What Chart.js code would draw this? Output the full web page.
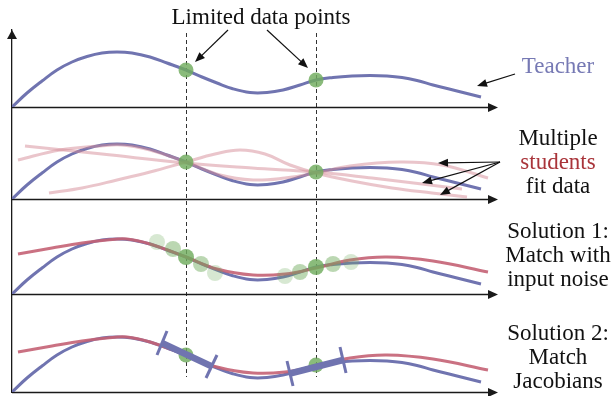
<!DOCTYPE html>
<html>
<head>
<meta charset="utf-8">
<title>Teacher / students</title>
<script src="https://cdn.jsdelivr.net/npm/chart.js@4.4.1/dist/chart.umd.min.js"></script>
<style>
    html, body { margin: 0; padding: 0; background: #fff; }
    #wrap { position: relative; width: 615px; height: 396px; overflow: hidden; }
    #wrap canvas { position: absolute; left: 0; top: 0; }
    .lbl {
        position: absolute;
        width: 140px;
        font-family: "Liberation Serif", serif;
        font-size: 23px;
        line-height: 24px;
        color: #111;
        text-align: center;
        white-space: nowrap;
    }
    .red { color: #a9343a; }
</style>
</head>
<body>
<div id="wrap">
    <canvas id="diagram" width="615" height="396"></canvas>
    <div class="lbl" style="left:161px; top:5px; width:200px;">Limited data points</div>
    <div class="lbl" style="left:488px; top:54px; color:#7679b4;">Teacher</div>
    <div class="lbl" style="left:488px; top:126px;">Multiple<br><span class="red">students</span><br>fit data</div>
    <div class="lbl" style="left:488px; top:219px;">Solution 1:<br>Match with<br>input noise</div>
    <div class="lbl" style="left:488px; top:321px;">Solution 2:<br>Match<br>Jacobians</div>
</div>

<script>
// x: position along the horizontal axis, y: height above that panel's axis

// teacher function (same in every panel)
const teacherX = [0, 15, 30, 45, 60, 75, 90, 105, 120, 138, 155, 174, 190, 205, 220, 238, 255, 271, 288, 304, 321, 340, 358, 375, 390, 405, 421, 445, 469];
const teacherY = [0, 14, 26, 37, 45, 50.5, 54, 55, 54, 50, 44, 37, 30, 24, 18.5, 14.5, 14.5, 17, 22, 27, 29.5, 31, 31.5, 31, 29.5, 26.5, 22, 16, 10];

// the two limited data points
const dataX = [174, 304];
const dataY = [37, 27];

// panel 2: three students that all pass through the data points
const studentAX = [6, 48, 88, 110, 138, 174, 208, 241, 273, 304, 338, 388, 430, 476];
const studentAY = [39, 49, 53, 54, 49, 37, 24, 19, 21, 26, 33, 37, 34, 21];
const studentBX = [13, 90, 174, 240, 304, 360, 410, 450];
const studentBY = [53, 45, 36, 31, 27, 21, 15, 10];
const studentCX = [37, 70, 105, 138, 174, 203, 228, 253, 278, 304, 340, 380, 420, 455];
const studentCY = [6, 11, 19, 27, 37, 45, 49, 45, 34, 26, 18, 11, 6, 2];

// panels 3 and 4: the fitted student
const solutionX = [6, 40, 70, 95, 115, 138, 174, 205, 241, 273, 304, 338, 375, 421, 476];
const solutionY = [40, 46, 51, 54, 55, 50, 37, 25, 19, 20, 26, 34, 37, 33, 22];

// panel 3: noisy copies of the inputs around each data point
const noiseX = [145, 161, 189, 203, 273, 288, 321, 339];
const noiseY = [52, 45, 30, 21, 18, 22, 30, 32];

// panel 4: tangent (Jacobian) pieces and their end bars
const jacobianX = [[150, 200], [278, 331]];
const jacobianY = [[49, 25.5], [18.5, 32]];
const jacBarX = [[155, 145], [205, 194], [275, 281], [328, 334]];
const jacBarY = [[61, 37], [37, 14], [31, 6], [45, 19]];

// ---- styling ----
const BLUE = '#7074b0';
const RED = 'rgba(196, 98, 116, 0.9)';
const PINK = 'rgba(214, 140, 152, 0.5)';
const GREEN = 'rgba(112, 172, 94, 0.82)';
const noiseAlpha = [0.28, 0.48, 0.48, 0.28, 0.28, 0.48, 0.48, 0.28];

const panelIds = ['p1', 'p2', 'p3', 'p4'];
const panelSpan = [77, 92, 95, 98];   // vertical room of each panel, same units as the data

const pts = (xs, ys) => xs.map((x, i) => ({ x, y: ys[i] }));

const datasets = [];

function addLine(axis, xs, ys, color, width, extra) {
    datasets.push(Object.assign({
        type: 'line',
        yAxisID: axis,
        data: pts(xs, ys),
        borderColor: color,
        borderWidth: width,
        pointRadius: 0,
        tension: 0.4,
        fill: false
    }, extra || {}));
}

function addDots(axis, xs, ys, color, radius) {
    datasets.push({
        type: 'scatter',
        yAxisID: axis,
        data: pts(xs, ys),
        showLine: false,
        pointRadius: radius,
        pointBorderWidth: 0,
        pointBackgroundColor: color
    });
}

// panel 1
addLine('p1', teacherX, teacherY, BLUE, 3);
addDots('p1', dataX, dataY, GREEN, 7.5);

// panel 2
addLine('p2', teacherX, teacherY, BLUE, 3);
addLine('p2', studentAX, studentAY, PINK, 3);
addLine('p2', studentBX, studentBY, PINK, 3);
addLine('p2', studentCX, studentCY, PINK, 3);
addDots('p2', dataX, dataY, GREEN, 7.5);

// panel 3
addLine('p3', teacherX, teacherY, BLUE, 3);
addLine('p3', solutionX, solutionY, RED, 3);
addDots('p3', noiseX, noiseY, ctx => `rgba(112, 172, 94, ${noiseAlpha[ctx.dataIndex]})`, 8);
addDots('p3', dataX, dataY, GREEN, 8);

// panel 4
addLine('p4', teacherX, teacherY, BLUE, 3);
addLine('p4', solutionX, solutionY, RED, 3);
addDots('p4', dataX, dataY, GREEN, 7.5);
jacobianX.forEach((xs, i) => addLine('p4', xs, jacobianY[i], BLUE, 6.5, { tension: 0 }));
jacBarX.forEach((xs, i) => addLine('p4', xs, jacBarY[i], BLUE, 3, { tension: 0 }));

// later datasets paint on top
datasets.forEach((d, i) => { d.order = -i; });

// annotation pointers, in panel units
const pointers = [
    { axis: 'p1', from: [216, 77], to: [183, 45] },
    { axis: 'p1', from: [255, 77], to: [296, 39] },
    { axis: 'p1', from: [503, 33], to: [465, 21] },
    { axis: 'p2', from: [488, 37], to: [426, 36] },
    { axis: 'p2', from: [488, 37], to: [410, 16] },
    { axis: 'p2', from: [488, 37], to: [428, 4] }
];

function arrowHead(ctx, x1, y1, x2, y2, len, half) {
    const a = Math.atan2(y2 - y1, x2 - x1);
    ctx.beginPath();
    ctx.moveTo(x2, y2);
    ctx.lineTo(x2 - len * Math.cos(a) + half * Math.sin(a), y2 - len * Math.sin(a) - half * Math.cos(a));
    ctx.lineTo(x2 - len * Math.cos(a) - half * Math.sin(a), y2 - len * Math.sin(a) + half * Math.cos(a));
    ctx.closePath();
    ctx.fill();
}

const frame = {
    id: 'frame',
    beforeDatasetsDraw(chart) {
        const { ctx, chartArea, scales } = chart;
        const x = scales.x;
        ctx.save();

        // dashed guides through the data points, across all panels
        ctx.strokeStyle = '#333';
        ctx.lineWidth = 1;
        ctx.setLineDash([4, 3]);
        const top = scales.p1.getPixelForValue(74);
        const bottom = scales.p4.getPixelForValue(15);
        dataX.forEach(v => {
            const px = Math.round(x.getPixelForValue(v)) + 0.5;
            ctx.beginPath();
            ctx.moveTo(px, top);
            ctx.lineTo(px, bottom);
            ctx.stroke();
        });
        ctx.setLineDash([]);

        // horizontal axes with arrows
        ctx.strokeStyle = '#1a1a1a';
        ctx.fillStyle = '#1a1a1a';
        ctx.lineWidth = 1.3;
        panelIds.forEach(id => {
            const py = Math.round(scales[id].getPixelForValue(0)) + 0.5;
            ctx.beginPath();
            ctx.moveTo(chartArea.left, py);
            ctx.lineTo(chartArea.right - 6, py);
            ctx.stroke();
            arrowHead(ctx, chartArea.left, py, chartArea.right, py, 10, 4.5);
        });

        // arrow on the top vertical axis
        arrowHead(ctx, chartArea.left, chartArea.top + 20, chartArea.left, chartArea.top, 9, 5);
        ctx.restore();
    },
    afterDatasetsDraw(chart) {
        const { ctx, scales } = chart;
        ctx.save();
        ctx.strokeStyle = '#111';
        ctx.fillStyle = '#111';
        ctx.lineWidth = 1.2;
        pointers.forEach(p => {
            const y = scales[p.axis];
            const x1 = scales.x.getPixelForValue(p.from[0]);
            const y1 = y.getPixelForValue(p.from[1]);
            const x2 = scales.x.getPixelForValue(p.to[0]);
            const y2 = y.getPixelForValue(p.to[1]);
            const a = Math.atan2(y2 - y1, x2 - x1);
            ctx.beginPath();
            ctx.moveTo(x1, y1);
            ctx.lineTo(x2 - 6 * Math.cos(a), y2 - 6 * Math.sin(a));
            ctx.stroke();
            arrowHead(ctx, x1, y1, x2, y2, 10, 4);
        });
        ctx.restore();
    }
};

const yScales = {};
panelIds.forEach((id, i) => {
    yScales[id] = {
        type: 'linear',
        position: 'left',
        stack: 'panels',
        stackWeight: panelSpan[i],
        weight: panelIds.length - i,
        min: 0,
        max: panelSpan[i],
        ticks: { display: false },
        grid: { display: true, drawOnChartArea: false, drawTicks: false, color: 'rgba(0,0,0,0)' },
        border: { display: true, color: '#1a1a1a', width: 1.3 }
    };
});

new Chart(document.getElementById('diagram'), {
    type: 'line',
    data: { datasets },
    options: {
        responsive: false,
        devicePixelRatio: 1,
        animation: false,
        events: [],
        layout: { autoPadding: false, padding: { left: 12, right: 117, top: 30, bottom: 4 } },
        plugins: { legend: { display: false }, tooltip: { enabled: false } },
        scales: Object.assign({
            x: { type: 'linear', min: 0, max: 486, display: false }
        }, yScales)
    },
    plugins: [frame]
});
</script>
</body>
</html>
